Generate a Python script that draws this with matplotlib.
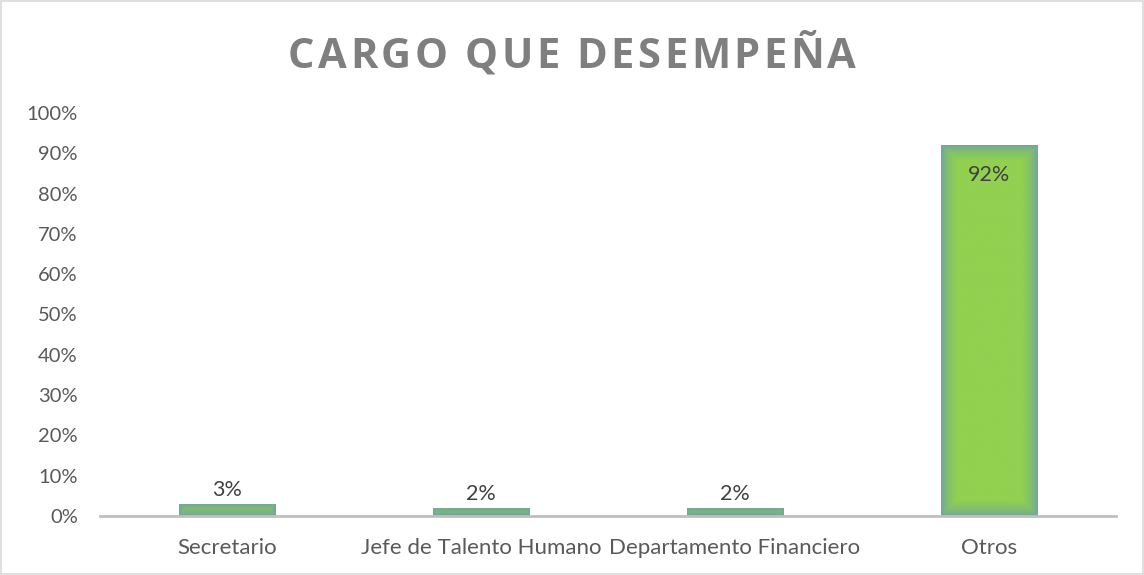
import numpy as np
import matplotlib
matplotlib.use("Agg")
import matplotlib.pyplot as plt
from matplotlib.colors import LinearSegmentedColormap
from matplotlib.patches import Rectangle
from matplotlib.ticker import PercentFormatter

categorias = ["Secretario", "Jefe de Talento Humano",
              "Departamento Financiero", "Otros"]
valores = [0.03, 0.02, 0.02, 0.92]
etiquetas = ["3%", "2%", "2%", "92%"]

plt.rcParams["font.family"] = ["Lato", "DejaVu Sans"]

fig = plt.figure(figsize=(11.44, 5.75), dpi=100)
ax = fig.add_axes([0.0874, 0.1026, 0.888, 0.701])

x = np.arange(len(categorias))
barras = ax.bar(x, valores, width=0.38, color="#8CCB55", zorder=2)

ax.set_xlim(-0.5, len(categorias) - 0.5)
ax.set_ylim(0, 1)
ax.set_yticks(np.arange(0, 1.01, 0.1))
ax.yaxis.set_major_formatter(PercentFormatter(1.0, decimals=0))
ax.set_xticks(x)
ax.set_xticklabels(categorias)
ax.tick_params(axis="both", length=0, labelsize=14.5, colors="#595959")
ax.tick_params(axis="x", pad=16, labelsize=16)
ax.tick_params(axis="y", pad=16)
for s in ["top", "right", "left"]:
    ax.spines[s].set_visible(False)
ax.spines["bottom"].set_color("#BFBFBF")
ax.spines["bottom"].set_linewidth(2)
ax.spines["bottom"].set_zorder(3)

# degradado verde -> verde azulado hacia los bordes de cada barra
cmap = LinearSegmentedColormap.from_list("borde", ["#6EA2A8", "#80BC72", "#92D050"])
fig.canvas.draw()
for b in barras:
    ext = b.get_window_extent()
    w = max(int(ext.width), 2)
    h = max(int(ext.height), 2)
    xx, yy = np.meshgrid(np.arange(w) + 0.5, np.arange(h) + 0.5)
    d = np.minimum(np.minimum(xx, w - xx), np.minimum(yy, h - yy))
    img = np.clip(d / 16.0, 0, 1) ** 0.7
    x0, y0 = b.get_x(), b.get_y()
    im = ax.imshow(img, cmap=cmap, vmin=0, vmax=1, origin="lower",
                   extent=[x0, x0 + b.get_width(), y0, y0 + b.get_height()],
                   aspect="auto", zorder=2, interpolation="bilinear")
    im.set_clip_path(b)
    b.set_facecolor("none")
    b.set_edgecolor("#A9D2D6")
    b.set_linewidth(0.6)

for xi, v, t in zip(x, valores, etiquetas):
    if v > 0.5:
        ax.text(xi, v - 0.048, t, ha="center", va="top", fontsize=15.5,
                color="#404040", zorder=4)
    else:
        ax.text(xi, v + 0.01, t, ha="center", va="bottom", fontsize=15.5,
                color="#404040", zorder=4)

# titulo con espaciado entre letras (letra por letra)
titulo = "CARGO QUE DESEMPEÑA"
renderer = fig.canvas.get_renderer()
estilo = dict(fontsize=30, fontweight="bold", color="#7F7F7F",
              family=["Open Sans", "DejaVu Sans"], va="baseline", ha="left")
espacio = 3.5
anchos = []
for ch in titulo:
    if ch == " ":
        anchos.append(10.0)
        continue
    t = fig.text(0, 0, ch, **estilo)
    anchos.append(t.get_window_extent(renderer).width)
    t.remove()
total = sum(anchos) + espacio * (len(titulo) - 1)
px = fig.bbox.width / 2 - total / 2
base_y = 1 - 68 / 575
for ch, wch in zip(titulo, anchos):
    if ch != " ":
        fig.text(px / fig.bbox.width, base_y, ch, **estilo)
    px += wch + espacio

fig.add_artist(Rectangle((0.001, 0.001), 0.998, 0.998, transform=fig.transFigure,
                         fill=False, edgecolor="#D9D9D9", linewidth=1.2))

fig.savefig("out.png", dpi=100)
